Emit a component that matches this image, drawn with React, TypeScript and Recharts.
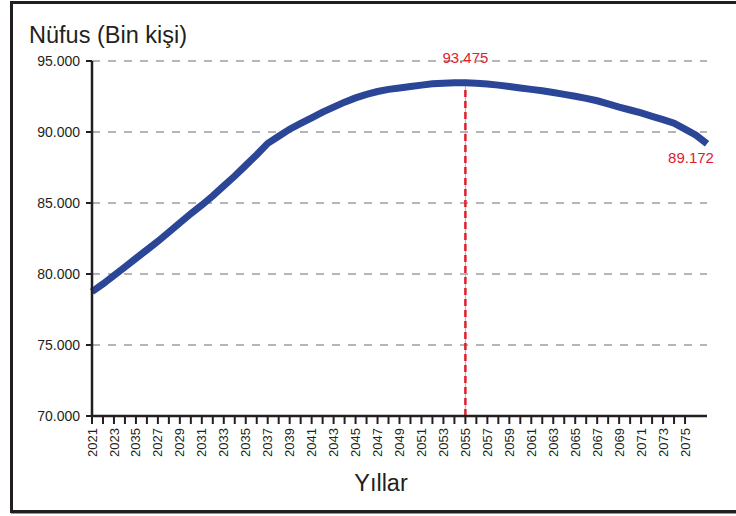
import React from "react";
import {
  LineChart,
  Line,
  XAxis,
  YAxis,
  CartesianGrid,
  ReferenceLine,
  LabelList,
} from "recharts";

// Nüfus projeksiyonu (bin kişi), okunan değerler
const years = [
  2021, 2022, 2023, 2024, 2025, 2026, 2027, 2028, 2029, 2030, 2031, 2032,
  2033, 2034, 2035, 2036, 2037, 2038, 2039, 2040, 2041, 2042, 2043, 2044,
  2045, 2046, 2047, 2048, 2049, 2050, 2051, 2052, 2053, 2054, 2055, 2056,
  2057, 2058, 2059, 2060, 2061, 2062, 2063, 2064, 2065, 2066, 2067, 2068,
  2069, 2070, 2071, 2072, 2073, 2074, 2075, 2076, 2077,
];

const population = [
  78750, 79300, 79900, 80500, 81100, 81700, 82300, 82950, 83600, 84250, 84850,
  85500, 86200, 86900, 87650, 88400, 89200, 89700, 90200, 90600, 91000, 91400,
  91750, 92100, 92400, 92650, 92850, 93000, 93100, 93200, 93300, 93400, 93440,
  93465, 93475, 93440, 93380, 93300, 93200, 93100, 93000, 92900, 92780, 92650,
  92520, 92370, 92200, 91980, 91750, 91550, 91340, 91100, 90870, 90620, 90200,
  89780, 89172,
];

// labels as printed on the source (every second year)
const xTickLabels = [
  "2021", "2023", "2035", "2027", "2029", "2031", "2033", "2035", "2037",
  "2039", "2041", "2043", "2045", "2047", "2049", "2051", "2053", "2055",
  "2057", "2059", "2061", "2063", "2065", "2067", "2069", "2071", "2073",
  "2075",
];

const yTicks = [70000, 75000, 80000, 85000, 90000, 95000];

const data = years.map((year, i) => ({ year, value: population[i] }));
const xTicks = years.filter((y) => y <= 2075);
const peakIndex = population.indexOf(Math.max(...population));
const peak = data[peakIndex];
const lastIndex = data.length - 1;

const FONT = '"Liberation Sans", Arial, Helvetica, sans-serif';
const INK = "#231f20";
const RED = "#e0202e";

const fmt = (n: number) =>
  String(n).replace(/\B(?=(\d{3})+(?!\d))/g, ".");

const XTick = (props: any) => {
  const { x, y, payload } = props;
  const idx = payload.value - years[0];
  if (idx % 2 !== 0) return null;
  const label = xTickLabels[idx / 2];
  return (
    <text
      x={x}
      y={y}
      transform={`rotate(-90, ${x}, ${y})`}
      textAnchor="end"
      dy="0.35em"
      fontSize={13}
      fontFamily={FONT}
      fill={INK}
    >
      {label}
    </text>
  );
};

const PointLabel = (props: any) => {
  const { index, value } = props;
  const px = props.x ?? props.viewBox?.x;
  const py = props.y ?? props.viewBox?.y;
  if (index === peakIndex) {
    return (
      <text x={px} y={py - 20} textAnchor="middle" fontSize={15} fontFamily={FONT} fill={RED}>
        {fmt(value)}
      </text>
    );
  }
  if (index === lastIndex) {
    return (
      <text x={px - 16} y={py + 19} textAnchor="middle" fontSize={15} fontFamily={FONT} fill={RED}>
        {fmt(value)}
      </text>
    );
  }
  return null;
};

export default function App() {
  return (
    <div
      style={{
        position: "absolute",
        left: 0,
        top: 0,
        width: 736,
        height: 516,
        overflow: "hidden",
        background: "#fff",
      }}
    >
      <div
        style={{
          position: "absolute",
          left: 10,
          top: 1,
          width: 760,
          height: 512,
          border: `3px solid ${INK}`,
          boxSizing: "border-box",
          boxShadow: "1px 1px 0 #999",
        }}
      />
      <div style={{ position: "absolute", left: 0, top: 0 }}>
        <LineChart
          width={736}
          height={516}
          data={data}
          margin={{ top: 61, right: 29, bottom: 40, left: 0 }}
        >
          <CartesianGrid
            vertical={false}
            stroke="#b5b5b5"
            strokeWidth={2}
            strokeDasharray="8 8"
          />
          <XAxis
            dataKey="year"
            type="number"
            domain={[2021, 2077]}
            ticks={xTicks}
            interval={0}
            height={60}
            tickSize={8}
            tickMargin={4}
            tick={<XTick />}
            axisLine={{ stroke: INK, strokeWidth: 2.5 }}
            tickLine={{ stroke: INK, strokeWidth: 2 }}
          />
          <YAxis
            domain={[70000, 95000]}
            ticks={yTicks}
            width={92}
            tickSize={6}
            tickMargin={6}
            tickFormatter={fmt}
            tick={{ fontSize: 14, fontFamily: FONT, fill: INK }}
            axisLine={{ stroke: INK, strokeWidth: 2.5 }}
            tickLine={{ stroke: INK, strokeWidth: 2 }}
          />
          <ReferenceLine
            segment={[
              { x: peak.year, y: 70000 },
              { x: peak.year, y: peak.value },
            ]}
            stroke="#b0b0b0"
            strokeWidth={1}
          />
          <ReferenceLine
            segment={[
              { x: peak.year, y: 70000 },
              { x: peak.year, y: peak.value },
            ]}
            stroke={RED}
            strokeWidth={2.5}
            strokeDasharray="7 4"
          />
          <Line
            dataKey="value"
            type="linear"
            stroke="#2b4597"
            strokeWidth={7}
            dot={false}
            activeDot={false}
            isAnimationActive={false}
          >
            <LabelList dataKey="value" content={<PointLabel />} />
          </Line>
        </LineChart>
      </div>
      <svg
        width={736}
        height={516}
        style={{ position: "absolute", left: 0, top: 0, pointerEvents: "none" }}
      >
        <text x={29} y={43} fontSize={23.5} fontFamily={FONT} fill={INK}>
          Nüfus (Bin kişi)
        </text>
        <text x={381} y={491} textAnchor="middle" fontSize={23.5} fontFamily={FONT} fill={INK}>
          Yıllar
        </text>
      </svg>
    </div>
  );
}
